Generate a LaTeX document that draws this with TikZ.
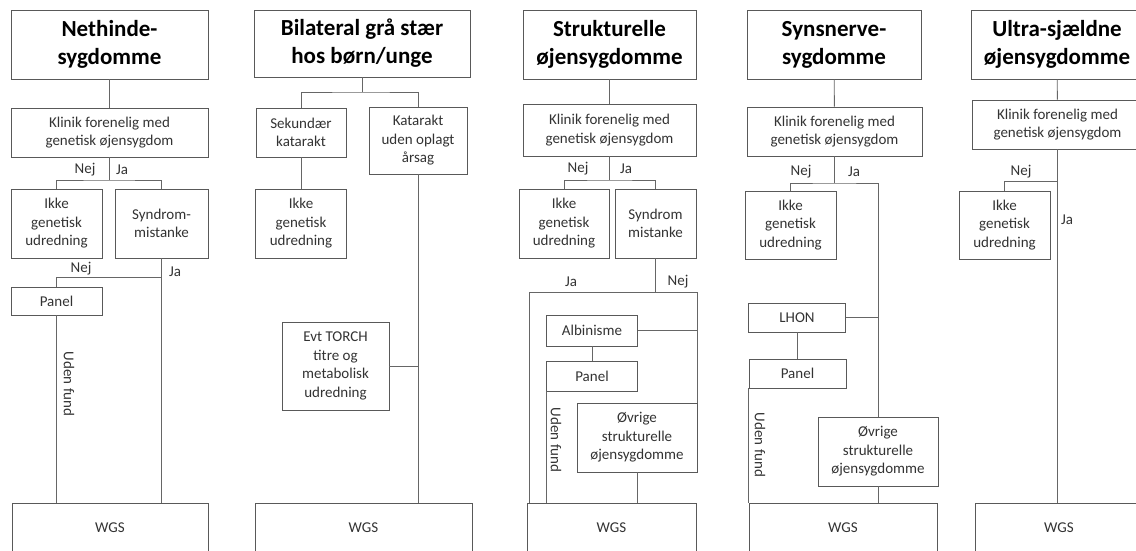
\documentclass[tikz,border=0pt]{standalone}
\usepackage{fontspec}
\setmainfont{Carlito}
\usetikzlibrary{graphs}

\begin{document}
\begin{tikzpicture}[x=1pt,y=-1pt,
    line width=0.9pt,color=black!60,
    box/.style={draw=black!65,fill=white,inner sep=0pt,align=center,text=black!80,
        font=\fontsize{15}{18.5}\selectfont},
    head/.style={box,text=black,font=\bfseries\fontsize{23}{28}\selectfont},
    lbl/.style={inner sep=0pt,text=black!80,font=\fontsize{15}{18}\selectfont}]
    \useasboundingbox (0,0) rectangle (1136,551);
    \clip (0,0) rectangle (1136,551);

    % Nethinde-sygdomme
    \node[head,minimum width=197,minimum height=69] (t1) at (109.5,44.5)  {Nethinde-\\sygdomme};
    \node[box,minimum width=197,minimum height=49]  (k1) at (109.5,132.5) {Klinik forenelig med\\genetisk øjensygdom};
    \node[box,minimum width=91,minimum height=69]   (i1) at (56.5,223.5)  {Ikke\\genetisk\\udredning};
    \node[box,minimum width=93,minimum height=69]   (m1) at (161.5,223.5) {Syndrom-\\mistanke};
    \node[box,minimum width=91,minimum height=28]   (p1) at (56.5,301)    {Panel};
    \node[box,minimum width=196,minimum height=50]  (w1) at (110,528)     {WGS};
    \coordinate (j1) at (109.5,180);
    \coordinate (j1b) at (161.5,277);
    \graph { (t1) -- (k1) };
    \draw (k1) -- (j1);
    \draw (i1.north) |- (j1) -| (m1.north);
    \draw (p1.north) |- (j1b);
    \draw (m1.south) -- (m1.south |- w1.north);
    \draw (p1.south) -- (p1.south |- w1.north);
    \node[lbl] at (85,170) {Nej};
    \node[lbl] at (122,170) {Ja};
    \node[lbl] at (81,269) {Nej};
    \node[lbl] at (175,272) {Ja};
    \node[lbl,rotate=-90] at (69,384) {Uden fund};

    % Bilateral graa staer
    \node[head,minimum width=216,minimum height=67] (t2) at (362,43.5)    {Bilateral grå stær\\hos børn/unge};
    \node[box,minimum width=90,minimum height=49]   (a2) at (301,132.5)   {Sekundær\\katarakt};
    \node[box,minimum width=98,minimum height=67]   (b2) at (418,140.5)   {Katarakt\\uden oplagt\\årsag};
    \node[box,minimum width=91,minimum height=69]   (i2) at (301,223.5)   {Ikke\\genetisk\\udredning};
    \node[box,minimum width=107,minimum height=88]  (e2) at (335.5,366)   {Evt TORCH\\titre og\\metabolisk\\udredning};
    \node[box,minimum width=217,minimum height=50]  (w2) at (363.5,528)   {WGS};
    \coordinate (j2) at (362,92);
    \draw (t2) -- (j2);
    \draw (a2.north) |- (j2) -| (b2.north);
    \graph { (a2) -- (i2) };
    \draw (b2.south) -- (b2.south |- w2.north);
    \draw (e2.east) -- (e2.east -| b2.south);

    % Strukturelle oejensygdomme
    \node[head,minimum width=173,minimum height=69] (t3) at (609.5,44.5)  {Strukturelle\\øjensygdomme};
    \node[box,minimum width=173,minimum height=52]  (k3) at (609.5,130)   {Klinik forenelig med\\genetisk øjensygdom};
    \node[box,minimum width=90,minimum height=69]   (i3) at (564,223.5)   {Ikke\\genetisk\\udredning};
    \node[box,minimum width=81,minimum height=69]   (m3) at (655.5,223.5) {Syndrom\\mistanke};
    \node[box,minimum width=91,minimum height=31]   (al3) at (592,330.5)  {Albinisme};
    \node[box,minimum width=91,minimum height=30]   (p3) at (592,376)     {Panel};
    \node[box,minimum width=120,minimum height=69]  (o3) at (637,437.5)   {Øvrige\\strukturelle\\øjensygdomme};
    \node[box,minimum width=169,minimum height=50]  (w3) at (611.5,528)   {WGS};
    \coordinate (j3) at (609.5,180);
    \coordinate (j3b) at (655.5,292);
    \coordinate (l3) at (529,292);
    \graph { (t3) -- (k3) };
    \draw (k3) -- (j3);
    \draw (i3.north) |- (j3) -| (m3.north);
    \draw (m3.south) -- (j3b);
    \draw (j3b) -- (l3) -- (l3 |- w3.north);
    \draw (j3b) -| (o3.north east);
    \draw (al3.east) -- (al3.east -| o3.north east);
    \graph { (al3) -- (p3) };
    \draw (p3.south west) -- (p3.south west |- w3.north);
    \draw (o3.south) -- (o3.south |- w3.north);
    \node[lbl] at (578,169) {Nej};
    \node[lbl] at (626,169) {Ja};
    \node[lbl] at (571,282) {Ja};
    \node[lbl] at (678,282) {Nej};
    \node[lbl,rotate=-90] at (556,440) {Uden fund};

    % Synsnerve-sygdomme
    \node[head,minimum width=174,minimum height=69] (t4) at (834,44.5)    {Synsnerve-\\sygdomme};
    \node[box,minimum width=175,minimum height=49]  (k4) at (834.5,131.5) {Klinik forenelig med\\genetisk øjensygdom};
    \node[box,minimum width=91,minimum height=68]   (i4) at (790.5,225)   {Ikke\\genetisk\\udredning};
    \node[box,minimum width=97,minimum height=29]   (l4) at (797,317.5)   {LHON};
    \node[box,minimum width=97,minimum height=29]   (p4) at (797.5,373.5) {Panel};
    \node[box,minimum width=120,minimum height=69]  (o4) at (878,451.5)   {Øvrige\\strukturelle\\øjensygdomme};
    \node[box,minimum width=188,minimum height=50]  (w4) at (843,528)     {WGS};
    \coordinate (j4) at (834.5,183);
    \graph { (t4) -- (k4) };
    \draw (k4) -- (j4);
    \draw (i4.north) |- (j4) -| (o4.north);
    \draw (l4.east) -- (l4.east -| o4.north);
    \draw (l4.south) -- (l4.south |- p4.north);
    \draw (p4.south west) -- (p4.south west |- w4.north);
    \draw (o4.south) -- (o4.south |- w4.north);
    \node[lbl] at (801,172) {Nej};
    \node[lbl] at (854,172) {Ja};
    \node[lbl,rotate=-90] at (760,445) {Uden fund};

    % Ultra-sjaeldne oejensygdomme
    \node[head,minimum width=172,minimum height=69] (t5) at (1057,44.5)   {Ultra-sjældne\\øjensygdomme};
    \node[box,minimum width=171,minimum height=49]  (k5) at (1057.5,124.5) {Klinik forenelig med\\genetisk øjensygdom};
    \node[box,minimum width=91,minimum height=68]   (i5) at (1004.5,225)  {Ikke\\genetisk\\udredning};
    \node[box,minimum width=168,minimum height=50]  (w5) at (1059,528)    {WGS};
    \coordinate (j5) at (1057.5,181);
    \graph { (t5) -- (k5) };
    \draw (k5.south) -- (k5.south |- w5.north);
    \draw (i5.north) |- (j5);
    \node[lbl] at (1021,172) {Nej};
    \node[lbl] at (1067,220) {Ja};
\end{tikzpicture}
\end{document}
